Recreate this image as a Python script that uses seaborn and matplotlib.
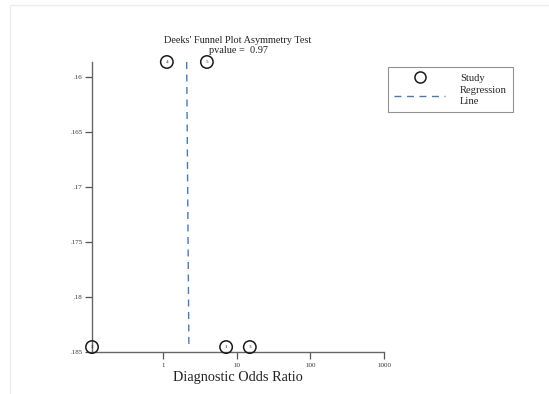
import matplotlib
matplotlib.use("Agg")
import matplotlib.pyplot as plt
from matplotlib.lines import Line2D
from matplotlib.patches import Rectangle
import seaborn as sns
import pandas as pd

# Study-level values: diagnostic odds ratio vs 1/sqrt(effective sample size)
study_id = [1, 2, 3, 4, 5]
dor = [7.2, 0.109, 15.1, 1.13, 3.95]
inv_sqrt_ess = [0.18455, 0.18455, 0.18455, 0.15864, 0.15864]

# Fitted regression line end points
reg_dor = [2.1, 2.25]
reg_y = [0.15864, 0.1844]

y_ticks = [0.16, 0.165, 0.17, 0.175, 0.18, 0.185]
y_tick_labels = [".16", ".165", ".17", ".175", ".18", ".185"]
x_ticks = [1, 10, 100, 1000]
x_tick_labels = ["1", "10", "100", "1000"]

pvalue = 0.97

sns.set_style("white")
plt.rcParams["font.family"] = ["Liberation Serif", "DejaVu Serif"]

W, H = 549, 394
fig = plt.figure(figsize=(W / 100, H / 100), dpi=100)
fig.patch.set_facecolor("white")

# faint outer frame
fig.patches.append(Rectangle((10 / W, -0.05), 1.2, (H - 5) / H + 0.05,
                             transform=fig.transFigure, fill=False,
                             edgecolor="#ececec", lw=1.0))

ax = fig.add_axes([92 / W, 1 - 352 / H, (384 - 92) / W, (352 - 62) / H])

studies = pd.DataFrame({"study": study_id, "dor": dor, "y": inv_sqrt_ess})
reg = pd.DataFrame({"dor": reg_dor, "y": reg_y})

sns.lineplot(data=reg, x="dor", y="y", ax=ax, sort=False, color="#4a78b0",
             lw=1.0, dashes=False, linestyle=(0, (5, 4)), zorder=2)
sns.scatterplot(data=studies, x="dor", y="y", ax=ax, s=80, marker="o",
                facecolor="none", edgecolor="#1a1a1a", linewidth=1.1,
                clip_on=False, zorder=3)
for sid, xv, yv in zip(study_id, dor, inv_sqrt_ess):
    ax.text(xv, yv, str(sid), ha="center", va="center", fontsize=3.8,
            color="#222222", zorder=4, clip_on=False)

ax.set_xscale("log")
ax.set_xlim(min(dor), 1000)
ax.set_ylim(0.185, min(inv_sqrt_ess))
ax.set_xticks(x_ticks)
ax.set_xticklabels(x_tick_labels)
ax.xaxis.set_minor_locator(matplotlib.ticker.NullLocator())
ax.set_yticks(y_ticks)
ax.set_yticklabels(y_tick_labels)
ax.tick_params(axis="both", which="major", length=5, width=0.9,
               color="#555555", labelsize=5, labelcolor="#333333", pad=2,
               left=True, bottom=True, direction="out")
ax.tick_params(axis="x", pad=3)

for side in ("top", "right"):
    ax.spines[side].set_visible(False)
for side in ("left", "bottom"):
    ax.spines[side].set_color("#666666")
    ax.spines[side].set_linewidth(1.0)

ax.set_xlabel("Diagnostic Odds Ratio", fontsize=10.3, color="#222222", labelpad=2)
ax.set_ylabel("")

ax.text(0.5, 1 + 17 / 290, "Deeks' Funnel Plot Asymmetry Test",
        transform=ax.transAxes, ha="center", va="bottom", fontsize=7.4,
        color="#222222")
ax.text(0.5, 1 + 7 / 290, f"pvalue =  {pvalue:.2f}",
        transform=ax.transAxes, ha="center", va="bottom", fontsize=7.4,
        color="#222222")

handles = [
    Line2D([], [], marker="o", ls="none", markerfacecolor="none",
           markeredgecolor="#1a1a1a", markersize=8, markeredgewidth=1.1),
    Line2D([], [], color="#4a78b0", lw=1.0, linestyle=(0, (5, 4))),
]
leg = fig.legend(handles, ["Study", "Regression\nLine"],
                 loc="upper left", bbox_to_anchor=(388 / W, 1 - 67 / H),
                 fontsize=7.6, frameon=True, fancybox=False,
                 edgecolor="#777777", handlelength=4.8, borderpad=0.6,
                 labelspacing=0.35, handletextpad=1.4, borderaxespad=0)
leg.get_frame().set_linewidth(0.8)

fig.savefig("out.png", dpi=100)
